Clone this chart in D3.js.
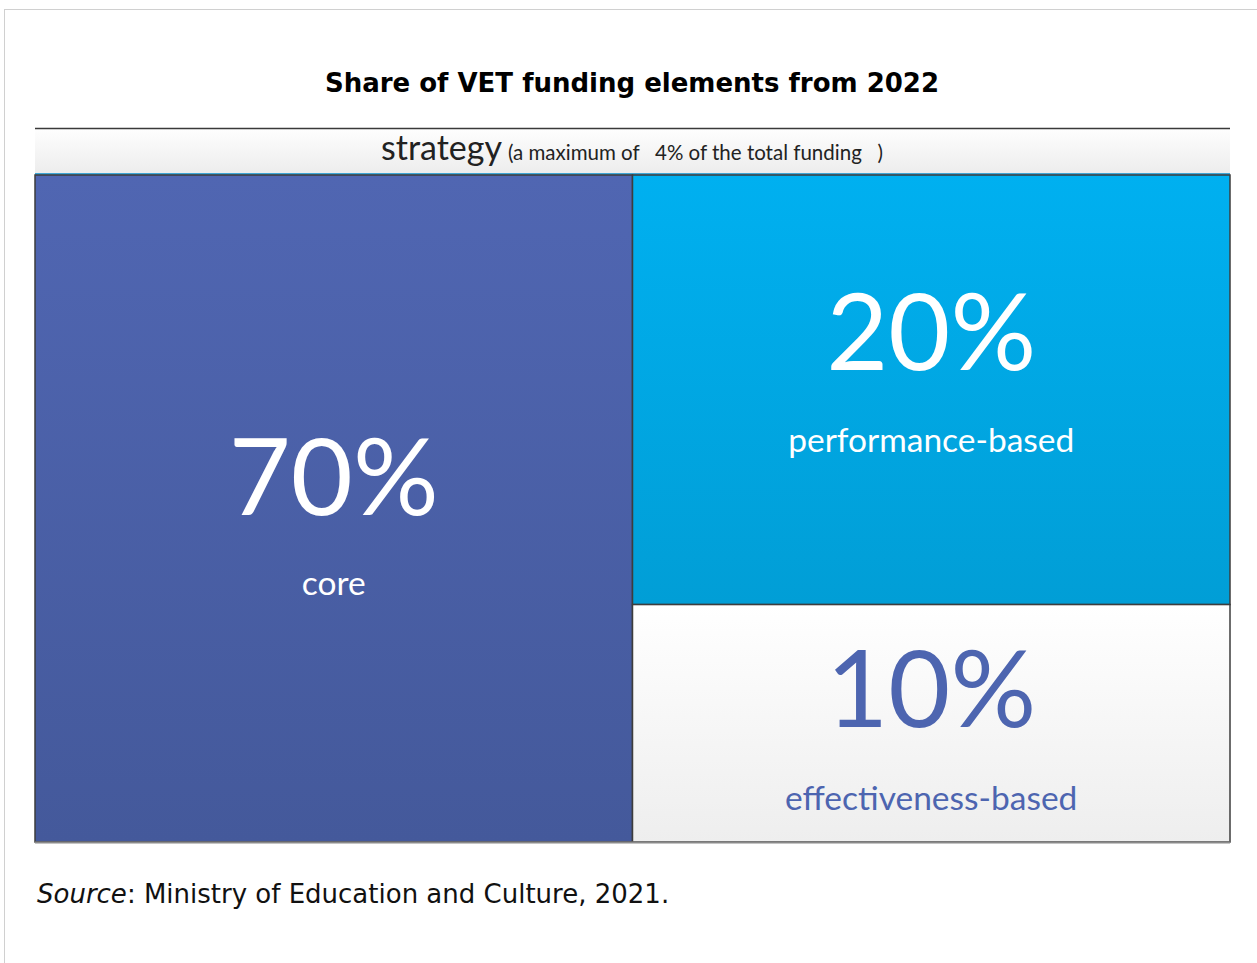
<!DOCTYPE html>
<meta charset="utf-8">
<style>
body { margin: 0; background: #fff; }
.title { font: bold 26px "DejaVu Sans", sans-serif; }
.source { font: 26px "DejaVu Sans", sans-serif; }
.cal { font-family: Lato, "Open Sans", sans-serif; }
</style>
<svg width="1257" height="963"></svg>
<script src="https://d3js.org/d3.v7.min.js"></script>
<script>

// data
var categories = ["core", "performance-based", "effectiveness-based"],
    shares = [70, 20, 10],
    strategyMax = 4,
    titleText = "Share of VET funding elements from 2022",
    sourceText = ": Ministry of Education and Culture, 2021.";

var svg = d3.select("svg");

// page frame
svg.append("rect")
    .attr("x", 4.5).attr("y", 9.5)
    .attr("width", 1300).attr("height", 1000)
    .attr("fill", "none").attr("stroke", "#d0d0d0");

svg.append("text").attr("class", "title")
    .attr("x", 632).attr("y", 92)
    .attr("text-anchor", "middle")
    .text(titleText);

var left = 35, right = 1230, bandTop = 129, bandH = 46, bottom = 842;

var defs = svg.append("defs");
function grad(id, c0, c1) {
  var g = defs.append("linearGradient").attr("id", id)
      .attr("x1", 0).attr("y1", 0).attr("x2", 0).attr("y2", 1);
  g.append("stop").attr("offset", "0%").attr("stop-color", c0);
  g.append("stop").attr("offset", "100%").attr("stop-color", c1);
}
grad("g-core", "#5066b2", "#44599b");
grad("g-perf", "#00b0f0", "#019ed6");
grad("g-eff", "#ffffff", "#eeeeee");
grad("g-band", "#fefefe", "#ececec");

// strategy band
svg.append("rect")
    .attr("x", left).attr("y", bandTop)
    .attr("width", right - left).attr("height", bandH)
    .attr("fill", "url(#g-band)");
svg.append("line")
    .attr("x1", left).attr("x2", right)
    .attr("y1", bandTop - 0.5).attr("y2", bandTop - 0.5)
    .attr("stroke", "#3a3a3a").attr("stroke-width", 1.5);

var band = svg.append("text").attr("class", "cal")
    .attr("x", 632).attr("y", bandTop + 31)
    .attr("text-anchor", "middle").attr("fill", "#222");
band.append("tspan").attr("font-size", 34).text("strategy");
band.append("tspan").attr("font-size", 20.5).attr("dx", 6)
    .text("(a maximum of\u00a0\u00a0 " + strategyMax + "% of the total funding\u00a0\u00a0 )");

// cells: core fills left column, the other two stack in the right column
var y0 = bandTop + bandH;
var x = d3.scaleBand().domain(["left", "right"]).range([left, right]);
var y = d3.scaleLinear().domain([0, 1]).range([y0, bottom]);
var split = 0.644;

var cells = categories.map(function(c, i) {
  var col = i === 0 ? "left" : "right";
  var f0 = i === 2 ? split : 0, f1 = i === 1 ? split : 1;
  return {
    name: c, value: shares[i],
    x: x(col), w: x.bandwidth(), y: y(f0), h: y(f1) - y(f0),
    fill: ["url(#g-core)", "url(#g-perf)", "url(#g-eff)"][i],
    ink: i === 2 ? "#4d65b0" : "#ffffff"
  };
});

// blue rule under the strategy band
svg.append("line")
    .attr("x1", left).attr("x2", right)
    .attr("y1", y0 - 1).attr("y2", y0 - 1)
    .attr("stroke", "#3fa6d6").attr("stroke-width", 2);

var g = svg.selectAll("g.cell").data(cells).enter().append("g").attr("class", "cell");

g.append("rect")
    .attr("x", function(d) { return d.x; })
    .attr("y", function(d) { return d.y; })
    .attr("width", function(d) { return d.w; })
    .attr("height", function(d) { return d.h; })
    .attr("fill", function(d) { return d.fill; })
    .attr("stroke", "#3d3d3d").attr("stroke-width", 1.5);

var labelY = {
  "core": [515, 595],
  "performance-based": [370, 452],
  "effectiveness-based": [727, 810]
};

g.append("text").attr("class", "cal")
    .attr("x", function(d) { return d.x + d.w / 2; })
    .attr("y", function(d) { return labelY[d.name][0]; })
    .attr("text-anchor", "middle")
    .attr("font-size", 107)
    .attr("fill", function(d) { return d.ink; })
    .text(function(d) { return d.value + "%"; });

g.append("text").attr("class", "cal")
    .attr("x", function(d) { return d.x + d.w / 2; })
    .attr("y", function(d) { return labelY[d.name][1]; })
    .attr("text-anchor", "middle")
    .attr("font-size", 33.5)
    .attr("fill", function(d) { return d.ink; })
    .text(function(d) { return d.name; });

// bottom rule
svg.append("line")
    .attr("x1", left).attr("x2", right)
    .attr("y1", bottom + 0.5).attr("y2", bottom + 0.5)
    .attr("stroke", "#8a8a8a").attr("stroke-width", 2);

var src = svg.append("text").attr("class", "source")
    .attr("x", 37).attr("y", 903).attr("fill", "#111");
src.append("tspan").attr("font-style", "italic").text("Source");
src.append("tspan").text(sourceText);

</script>
